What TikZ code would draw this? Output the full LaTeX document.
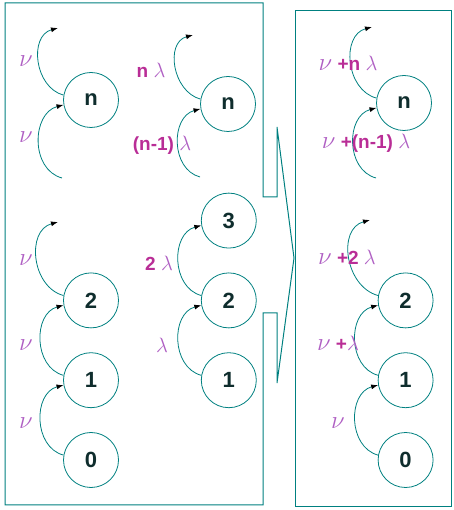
\documentclass[tikz,border=0pt]{standalone}
\usepackage{fontspec}
\setmainfont{Liberation Sans}
\usepackage{xcolor}
\usepackage{tikz}
\usetikzlibrary{arrows.meta, positioning}

\definecolor{lineteal}{RGB}{0,128,128}
\definecolor{ratepink}{RGB}{185,45,150}
\definecolor{greekpink}{RGB}{175,95,195}
\definecolor{statetxt}{RGB}{15,45,45}
\newcommand{\rnu}{\textcolor{greekpink}{\fontsize{23}{23}\selectfont$\nu$}}
\newcommand{\rlam}{\textcolor{greekpink}{\fontsize{22}{22}\selectfont$\lambda$}}

\begin{document}
\begin{tikzpicture}[x=1pt, y=1pt, node distance=24pt and 82pt,
    stnode/.style={circle, draw=lineteal, line width=0.8pt, minimum size=55pt, inner sep=0pt, text=statetxt, font=\fontsize{22}{22}\selectfont\bfseries},
    rate/.style={text=ratepink, font=\fontsize{19}{19}\selectfont\bfseries, inner sep=0pt},
    flow/.style={draw=lineteal, line width=0.8pt, -{Latex[length=7pt, width=5pt, color=black]}, out=165, in=195, looseness=1.15},
    panel/.style={draw=lineteal, line width=1pt}]
    \useasboundingbox (0,0) rectangle (453,510);

    % the two panels, the left one with its pointer
    \draw[panel] (5,507) -- (263,507) -- (263,313) -- (277,313) -- (277,383) -- (294,252) -- (277,127) -- (277,197) -- (263,197) -- (263,5) -- (5,5) -- cycle;
    \draw[panel] (295,499) rectangle (451.5,3);

    % left column
    \node (Ln) [stnode] at (91,410) {n};
    \node (L0) [stnode] at (91,50) {0};
    \node (L1) [stnode, above=of L0] {1};
    \node (L2) [stnode, above=of L1] {2};

    % middle column
    \node (Mn) [stnode] at (228,406) {n};
    \node (M1) [stnode, right=of L1] {1};
    \node (M2) [stnode, above=of M1] {2};
    \node (M3) [stnode, above=of M2] {3};

    % right column
    \node (Rn) [stnode] at (404,407) {n};
    \node (R1) [stnode, right=121pt of M1] {1};
    \node (R0) [stnode, below=of R1] {0};
    \node (R2) [stnode, above=of R1] {2};

    % loose ends of the arcs
    \coordinate (Ltop) at (58,482);
    \coordinate (Lbot) at (62,332);
    \coordinate (Ltip) at (58,288);
    \coordinate (Mtop) at (193,475);
    \coordinate (Mbot) at (200,333);
    \coordinate (Rtop) at (372,483);
    \coordinate (Rbot) at (376,332);
    \coordinate (Rtip) at (370,290);

    \draw[flow] (Lbot) to (Ln.190);
    \draw[flow] (Ln.170) to (Ltop);
    \draw[flow] (L0.170) to (L1.190);
    \draw[flow] (L1.170) to (L2.190);
    \draw[flow] (L2.170) to (Ltip);

    \draw[flow] (Mbot) to (Mn.190);
    \draw[flow] (Mn.170) to (Mtop);
    \draw[flow] (M1.170) to (M2.190);
    \draw[flow] (M2.170) to (M3.190);

    \draw[flow] (Rbot) to (Rn.190);
    \draw[flow] (Rn.170) to (Rtop);
    \draw[flow] (R0.170) to (R1.190);
    \draw[flow] (R1.170) to (R2.190);
    \draw[flow] (R2.170) to (Rtip);

    % rates
    \node (nuLa) [rate] at (26,449) {\rnu};
    \node (nuLb) [rate] at (26,373) {\rnu};
    \node (nuLc) [rate] at (26,250) {\rnu};
    \node (nuLd) [rate] at (26,165) {\rnu};
    \node (nuLe) [rate] at (26,87) {\rnu};

    \node (lamMa) [rate] at (151,440) {n \rlam};
    \node (lamMb) [rate] at (162,365) {(n-1) \rlam};
    \node (lamMc) [rate] at (159,247) {2 \rlam};
    \node (lamMd) [rate] at (162,165) {\rlam};

    \node (sumRa) [rate] at (348,447) {\rnu{} +n \rlam};
    \node (sumRb) [rate] at (366,367) {\rnu{} +(n-1) \rlam};
    \node (sumRc) [rate] at (347,253) {\rnu{} +2 \rlam};
    \node (sumRd) [rate] at (338,167) {\rnu{} +\rlam};
    \node (sumRe) [rate] at (338,87) {\rnu};
\end{tikzpicture}
\end{document}
